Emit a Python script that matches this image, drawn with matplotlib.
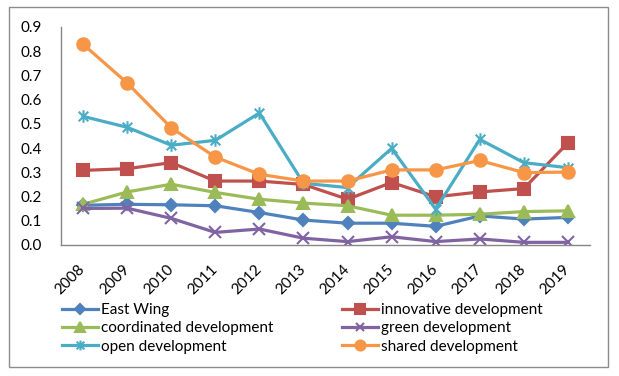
import matplotlib.pyplot as plt
from matplotlib.path import Path
from matplotlib.patches import Rectangle

plt.rcParams['font.family'] = ['Lato', 'DejaVu Sans']

years = [str(y) for y in range(2008, 2020)]
east_wing = [0.164, 0.168, 0.166, 0.162, 0.134, 0.103, 0.090, 0.090, 0.077, 0.120, 0.107, 0.114]
innovative = [0.308, 0.315, 0.340, 0.264, 0.264, 0.250, 0.189, 0.258, 0.199, 0.219, 0.233, 0.422]
coordinated = [0.168, 0.219, 0.251, 0.217, 0.189, 0.173, 0.162, 0.123, 0.123, 0.127, 0.138, 0.141]
green = [0.151, 0.152, 0.110, 0.052, 0.066, 0.028, 0.014, 0.034, 0.014, 0.025, 0.011, 0.011]
opened = [0.531, 0.486, 0.412, 0.432, 0.545, 0.255, 0.237, 0.399, 0.148, 0.436, 0.340, 0.319]
shared = [0.829, 0.669, 0.484, 0.363, 0.292, 0.264, 0.264, 0.310, 0.310, 0.349, 0.299, 0.301]

# excel style "star": an x with a vertical bar through it
star = Path([(-1, -1), (1, 1), (-1, 1), (1, -1), (0, -1.3), (0, 1.3)],
            [Path.MOVETO, Path.LINETO, Path.MOVETO, Path.LINETO, Path.MOVETO, Path.LINETO])

series = [
    ('East Wing', east_wing, '#4F81BD', 'D', 6.5),
    ('innovative development', innovative, '#C0504D', 's', 8.5),
    ('coordinated development', coordinated, '#9BBB59', '^', 9),
    ('green development', green, '#8064A2', 'x', 8),
    ('open development', opened, '#4BACC6', star, 9),
    ('shared development', shared, '#F79646', 'o', 9),
]

fig = plt.figure(figsize=(6.19, 3.76), dpi=100)
ax = fig.add_axes([61/619, 1 - 245/376, 529/619, 218/376])

x = list(range(len(years)))
lines = []
for name, vals, color, marker, ms in series:
    ln, = ax.plot(x, vals, color=color, lw=2.3, marker=marker, ms=ms,
                  mew=1.5, mec=color, mfc=color, label=name)
    lines.append(ln)

ax.set_xlim(-0.5, len(years) - 0.5)
ax.set_ylim(0, 0.9)
ax.set_yticks([i / 10 for i in range(10)])
ax.set_yticklabels(['%.1f' % (i / 10) for i in range(10)])
ax.set_xticks(x)
ax.set_xticklabels(years, rotation=45, ha='right', va='center', rotation_mode='anchor')
ax.tick_params(length=0, labelsize=11)
ax.tick_params(axis='y', pad=14)
ax.tick_params(axis='x', pad=16)
for s in ['top', 'right']:
    ax.spines[s].set_visible(False)
for s in ['left', 'bottom']:
    ax.spines[s].set_color('#868686')
    ax.spines[s].set_linewidth(1)

# legend is filled row by row in the reference
order = [0, 2, 4, 1, 3, 5]
fig.legend([lines[i] for i in order], [series[i][0] for i in order],
           loc='upper left', bbox_to_anchor=(62/619, 1 - 303/376), ncol=2,
           frameon=False, fontsize=11, handlelength=2.35, handletextpad=0.2,
           columnspacing=4.5, labelspacing=0.28, borderpad=0, borderaxespad=0,
           markerscale=0.8)

fig.patches.append(Rectangle((9/619, 1 - 367/376), 599/619, 360/376,
                             transform=fig.transFigure, fill=False,
                             edgecolor='#8c8c8c', lw=1))

fig.savefig('out.png', dpi=100)
